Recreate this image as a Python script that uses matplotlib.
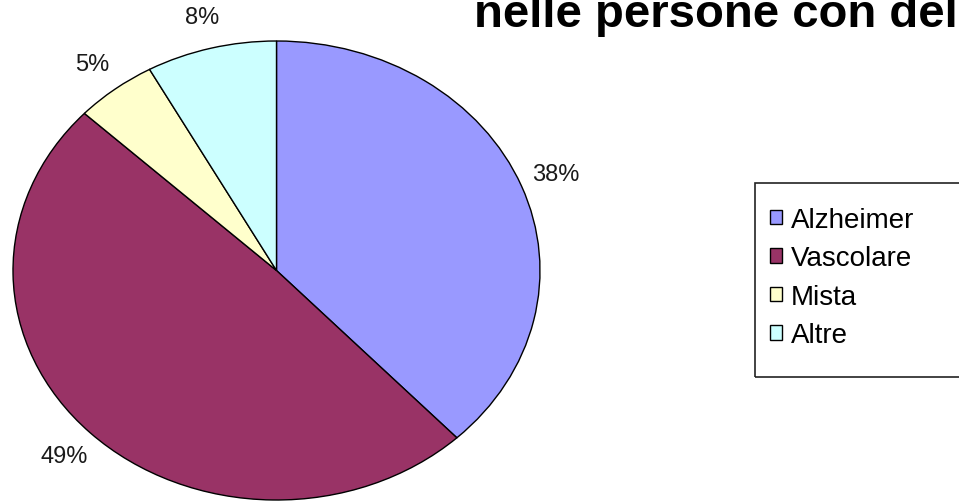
import matplotlib
matplotlib.use("Agg")
from matplotlib import pyplot as plt
from matplotlib.patches import Rectangle

plt.rcParams['font.family'] = ['Liberation Sans', 'DejaVu Sans']

categories = ["Alzheimer", "Vascolare", "Mista", "Altre"]
shares = [38, 49, 5, 8]
colors = ["#9999FF", "#993366", "#FFFFCC", "#CCFFFF"]
title_text = "nelle persone con del"

W, H = 959, 502
fig = plt.figure(figsize=(W / 100, H / 100), dpi=100)

# pie axes, stretched a bit wider than tall
ax = fig.add_axes([13 / W, 1 / H, 527 / W, 459 / H])
wedges, texts, pcts = ax.pie(
    shares, colors=colors, startangle=90, counterclock=False,
    wedgeprops=dict(edgecolor="black", linewidth=1.0),
    autopct=lambda p: f"{p:.0f}%", pctdistance=1.14,
    textprops=dict(fontsize=17, color="#1a1a1a"))
ax.set_aspect("auto")
ax.set_xlim(-1, 1)
ax.set_ylim(-1, 1)

fig.text(474 / W, 1 - 27 / H, title_text, fontsize=34, fontweight="bold",
         ha="left", va="baseline", color="black")

# legend frame runs off the right edge
fig.patches.append(Rectangle((755 / W, 1 - 378 / H), 230 / W, 194 / H,
                             transform=fig.transFigure, fill=False,
                             edgecolor="#222222", linewidth=1.2))
fig.legend(wedges, categories, loc="upper left",
           bbox_to_anchor=(756 / W, 1 - 194 / H), frameon=False,
           fontsize=20, handlelength=0.45, handleheight=0.45,
           handletextpad=0.3, labelspacing=0.45, borderpad=0)

fig.savefig("out.png", dpi=100)
